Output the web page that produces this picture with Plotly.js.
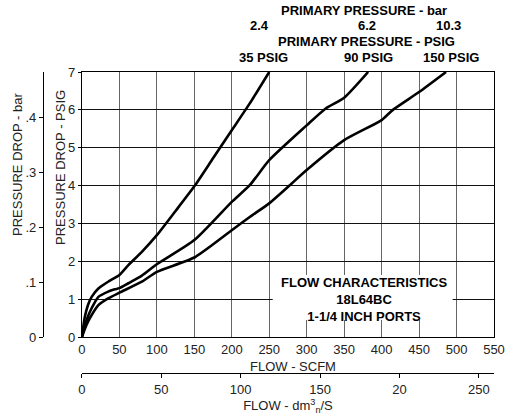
<!DOCTYPE html>
<html>
<head>
<meta charset="utf-8">
<script src="https://cdn.plot.ly/plotly-3.0.1.min.js"></script>
<style>html,body{margin:0;padding:0;background:#fff;}#chart{width:516px;height:419px;}</style>
</head>
<body>
<div id="chart"></div>
<script>
// ---- data ----
const flow35 = [0, 2, 4, 8, 13, 22, 35, 50, 62, 80, 100, 125, 150, 175, 200, 224, 250];
const drop35 = [0, 0.3, 0.54, 0.84, 1.06, 1.28, 1.46, 1.64, 1.90, 2.25, 2.69, 3.33, 3.98, 4.72, 5.46, 6.17, 7.0];

const flow90 = [0, 3, 8, 13, 22, 35, 44, 50, 62, 80, 100, 150, 200, 224, 250, 300, 325, 350, 382];
const drop90 = [0, 0.25, 0.54, 0.76, 1.06, 1.2, 1.26, 1.29, 1.42, 1.62, 1.92, 2.56, 3.57, 4.01, 4.67, 5.59, 6.03, 6.32, 7.0];

const flow150 = [0, 4, 8, 13, 22, 35, 50, 80, 100, 150, 200, 224, 250, 277, 300, 350, 400, 415, 450, 486];
const drop150 = [0, 0.22, 0.40, 0.58, 0.84, 1.02, 1.17, 1.46, 1.72, 2.10, 2.82, 3.17, 3.53, 4.0, 4.41, 5.2, 5.73, 6.0, 6.47, 7.0];

const primaryPsigLabels = ['35 PSIG', '90 PSIG', '150 PSIG'];
const primaryBarLabels = ['2.4', '6.2', '10.3'];

const scfmTicks = [0, 50, 100, 150, 200, 250, 300, 350, 400, 450, 500, 550];
const psigTicks = [0, 1, 2, 3, 4, 5, 6, 7];
const barTickVals = [0, 0.1, 0.2, 0.3, 0.4];
const barTickText = ['0', '.1', '.2', '.3', '.4'];
const dm3TickVals = [0, 50, 100, 150, 200, 250];
const dm3TickText = ['0', '50', '100', '150', '20', '250'];

const boxLines = ['FLOW CHARACTERISTICS', '18L64BC', '1-1/4 INCH PORTS'];
const xTitle = 'FLOW - SCFM';
const x2Title = 'FLOW - dm<sup>3</sup><sub>n</sub>/S';
const yTitle = 'PRESSURE DROP - PSIG';
const y2Title = 'PRESSURE DROP - bar';

const SCFM_MAX = 550, PSIG_MAX = 7;
const PSI_PER_BAR = 14.5038, DM3S_PER_SCFM = 0.4719474;

// ---- drawing ----
const FONT = 'Liberation Sans, Arial, sans-serif';
const series = [[flow35, drop35], [flow90, drop90], [flow150, drop150]];
const traces = series.map(([x, y]) => ({
  x: x, y: y, type: 'scatter', mode: 'lines',
  line: {color: '#000', width: 2.6, shape: 'spline', smoothing: 0.6},
  xaxis: 'x', yaxis: 'y', hoverinfo: 'skip', showlegend: false
}));
// one series again in metric units, invisible, so the metric axes are drawn
traces.push({
  x: flow150.map(v => v * DM3S_PER_SCFM), y: drop150.map(v => v / PSI_PER_BAR),
  type: 'scatter', mode: 'lines', line: {color: 'rgba(0,0,0,0)', width: 0},
  xaxis: 'x2', yaxis: 'y2', hoverinfo: 'skip', showlegend: false
});

const W = 516, H = 419, ML = 82, MR = 21.5, MT = 72, MB = 82;
const plotW = W - MR;          // paper width with l=0
const plotH = H - MT;          // paper height with b=0
const px2paperX = px => px / plotW;
const px2paperY = py => (H - py) / plotH;

const annotations = [];
const psigShift = [-6, 0, 5];
const barShift = [-10, -1, 2];
const boldFont = {family: FONT, size: 13, color: '#000'};
const axisFont = {family: FONT, size: 13, color: '#222'};
series.forEach(([x], i) => {
  const xe = x[x.length - 1];
  annotations.push({x: xe, xref: 'x', y: 1, yref: 'paper', yshift: 15, xshift: psigShift[i],
    text: '<b>' + primaryPsigLabels[i] + '</b>', showarrow: false, yanchor: 'middle', font: boldFont});
  annotations.push({x: xe, xref: 'x', y: 1, yref: 'paper', yshift: 47, xshift: barShift[i],
    text: '<b>' + primaryBarLabels[i] + '</b>', showarrow: false, yanchor: 'middle', font: boldFont});
});
annotations.push({x: 376, xref: 'x', y: 1, yref: 'paper', yshift: 62, text: '<b>PRIMARY PRESSURE - bar</b>',
  showarrow: false, yanchor: 'middle', font: boldFont});
annotations.push({x: 380, xref: 'x', y: 1, yref: 'paper', yshift: 31, text: '<b>PRIMARY PRESSURE - PSIG</b>',
  showarrow: false, yanchor: 'middle', font: boldFont});
annotations.push({x: 376, xref: 'x', y: 1.0, yref: 'y', text: boxLines.map(t => '<b>' + t + '</b>').join('<br>'),
  showarrow: false, yanchor: 'middle', align: 'center', font: boldFont});
// axis titles placed where the reference has them
annotations.push({x: px2paperX(293), xref: 'paper', y: px2paperY(366), yref: 'paper', text: xTitle,
  showarrow: false, xanchor: 'center', yanchor: 'middle', font: axisFont});
annotations.push({x: px2paperX(60), xref: 'paper', y: px2paperY(167), yref: 'paper', text: yTitle,
  textangle: -90, showarrow: false, xanchor: 'center', yanchor: 'middle', font: axisFont});
annotations.push({x: px2paperX(17), xref: 'paper', y: px2paperY(164), yref: 'paper', text: y2Title,
  textangle: -90, showarrow: false, xanchor: 'center', yanchor: 'middle', font: axisFont});

const layout = {
  width: W, height: H,
  margin: {l: 0, r: MR, t: MT, b: 0, pad: 0},
  paper_bgcolor: '#fff', plot_bgcolor: '#fff',
  showlegend: false, hovermode: false,
  font: {family: FONT, size: 13, color: '#222'},
  xaxis: {
    domain: [ML / plotW, 1], range: [0, SCFM_MAX], tickvals: scfmTicks,
    showgrid: true, gridcolor: '#666', gridwidth: 1, zeroline: false,
    showline: true, linecolor: '#000', linewidth: 1, mirror: true,
    ticks: '', tickfont: axisFont
  },
  yaxis: {
    domain: [MB / plotH, 1], range: [0, PSIG_MAX], tickvals: psigTicks,
    showgrid: true, gridcolor: '#111', gridwidth: 1, zeroline: false,
    showline: true, linecolor: '#000', linewidth: 1, mirror: true,
    ticks: 'outside', ticklen: 3, tickcolor: '#000', tickfont: axisFont
  },
  yaxis2: {
    overlaying: 'y', anchor: 'free', position: 43 / plotW, side: 'left',
    range: [0, PSIG_MAX / PSI_PER_BAR], tickvals: barTickVals, ticktext: barTickText,
    showgrid: false, zeroline: false, showline: true, linecolor: '#000', linewidth: 1,
    ticks: 'outside', ticklen: 4, tickcolor: '#000', tickfont: axisFont
  },
  xaxis2: {
    overlaying: 'x', anchor: 'free', position: (H - 373) / plotH, side: 'bottom',
    range: [0, SCFM_MAX * DM3S_PER_SCFM], tickvals: dm3TickVals, ticktext: dm3TickText,
    showgrid: false, zeroline: false, showline: true, linecolor: '#000', linewidth: 1,
    ticks: 'outside', ticklen: 4, tickcolor: '#000', tickfont: axisFont,
    title: {text: x2Title, font: axisFont, standoff: 0}
  },
  shapes: [{type: 'rect', xref: 'x', yref: 'y', x0: 254.7, x1: 494.7, y0: 0.449, y1: 1.636,
    fillcolor: '#fff', line: {width: 0}, layer: 'above'}],
  annotations: annotations
};

Plotly.newPlot('chart', traces, layout, {staticPlot: true, displayModeBar: false});
</script>
</body>
</html>
